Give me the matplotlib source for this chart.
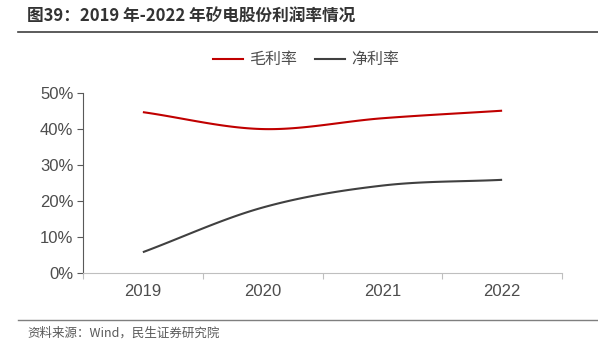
import numpy as np
import matplotlib
matplotlib.use('Agg')
import matplotlib.pyplot as plt
from matplotlib.lines import Line2D

plt.rcParams['font.family'] = ['Noto Sans CJK SC', 'DejaVu Sans']

years = ['2019', '2020', '2021', '2022']
gross_margin = [0.446, 0.399, 0.429, 0.450]
net_margin = [0.057, 0.181, 0.242, 0.258]
series_names = ['毛利率', '净利率']
series_colors = ['#C00000', '#404040']

title = '图39：2019 年-2022 年矽电股份利润率情况'
source = '资料来源：Wind，民生证券研究院'


def smooth(xs, ys, n=40):
    # catmull-rom style smoothing, similar to office "smoothed line"
    xs = np.asarray(xs, float)
    ys = np.asarray(ys, float)
    px = np.concatenate([[2 * xs[0] - xs[1]], xs, [2 * xs[-1] - xs[-2]]])
    py = np.concatenate([[2 * ys[0] - ys[1]], ys, [2 * ys[-1] - ys[-2]]])
    out_x, out_y = [], []
    for i in range(1, len(px) - 2):
        x0, x1, x2, x3 = px[i - 1:i + 3]
        y0, y1, y2, y3 = py[i - 1:i + 3]
        c1x, c1y = x1 + (x2 - x0) / 6, y1 + (y2 - y0) / 6
        c2x, c2y = x2 - (x3 - x1) / 6, y2 - (y3 - y1) / 6
        t = np.linspace(0, 1, n)
        bx = (1 - t)**3 * x1 + 3 * (1 - t)**2 * t * c1x + 3 * (1 - t) * t**2 * c2x + t**3 * x2
        by = (1 - t)**3 * y1 + 3 * (1 - t)**2 * t * c1y + 3 * (1 - t) * t**2 * c2y + t**3 * y2
        out_x.extend(bx)
        out_y.extend(by)
    return np.array(out_x), np.array(out_y)


fig = plt.figure(figsize=(5.98, 3.56), dpi=100)
ax = fig.add_axes([0.1388, 0.234, 0.801, 0.5056])

x = np.arange(len(years))
for vals, name, color in zip([gross_margin, net_margin], series_names, series_colors):
    sx, sy = smooth(x, vals)
    ax.plot(sx, sy, color=color, lw=1.5, label=name, solid_capstyle='butt')

ax.set_xlim(-0.5, len(years) - 0.5)
ax.set_ylim(0, 0.5)
ax.set_yticks(np.arange(0, 0.51, 0.1))
ax.set_yticklabels([f'{int(round(v * 100))}%' for v in np.arange(0, 0.51, 0.1)],
                   family=['Liberation Sans', 'DejaVu Sans'], fontsize=12, color='#4D4D4D')
ax.set_xticks(x)
ax.set_xticklabels(years, family=['Liberation Sans', 'DejaVu Sans'], fontsize=12, color='#4D4D4D')
ax.set_xticks(np.arange(-0.5, len(years)), minor=True)
ax.tick_params(axis='x', which='major', length=0, pad=8)
ax.tick_params(axis='x', which='minor', length=4, color='#BFBFBF', width=0.8, direction='out')
ax.tick_params(axis='y', length=4, color='#595959', width=0.8, pad=3)

for s in ['top', 'right']:
    ax.spines[s].set_visible(False)
ax.spines['bottom'].set_color('#BFBFBF')
ax.spines['bottom'].set_linewidth(0.8)
ax.spines['left'].set_color('#595959')
ax.spines['left'].set_linewidth(0.8)

handles = [Line2D([], [], color=c, lw=1.5) for c in series_colors]
fig.legend(handles, series_names, loc='center', bbox_to_anchor=(0.512, 0.832), ncol=2,
           frameon=False, fontsize=11.5, handlelength=1.9, handletextpad=0.4,
           columnspacing=1.1, labelcolor='#4D4D4D')

fig.text(0.045, 0.952, title, fontsize=12, fontweight='bold', color='#333333', va='center')
fig.add_artist(Line2D([0.03, 1.0], [0.91, 0.91], color='#404040', lw=1.2))
fig.add_artist(Line2D([0.03, 1.0], [0.101, 0.101], color='#7F7F7F', lw=1.0))
fig.text(0.045, 0.064, source, fontsize=9, color='#595959', va='center')

fig.savefig('out.png', dpi=100)
